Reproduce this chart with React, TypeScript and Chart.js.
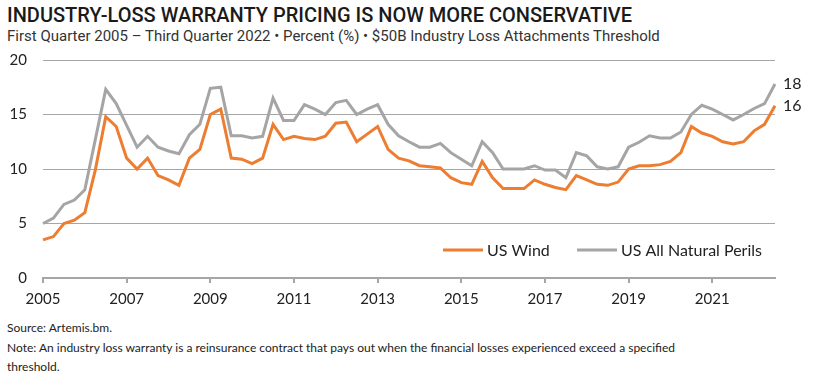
import React, { useEffect, useRef } from 'react';
import { Chart, registerables } from 'chart.js';

Chart.register(...registerables);

const years = [2005, 2006, 2007, 2008, 2009, 2010, 2011, 2012, 2013, 2014, 2015, 2016, 2017, 2018, 2019, 2020, 2021, 2022];
const quarters = ['Q1', 'Q2', 'Q3', 'Q4'];
const lastQuarter = '2022 Q3';

const categories: string[] = [];
for (const y of years) {
  for (const q of quarters) {
    const c = `${y} ${q}`;
    if (categories.length && categories[categories.length - 1] === lastQuarter) break;
    categories.push(c);
  }
}

const usWind = [
  3.5, 3.8, 5.0, 5.3, 6.0, 9.9, 14.8, 13.9, 11.0, 10.0, 11.0, 9.4,
  9.0, 8.5, 11.0, 11.8, 15.0, 15.5, 11.0, 10.9, 10.5, 11.0, 14.1, 12.7,
  13.0, 12.8, 12.7, 13.0, 14.2, 14.3, 12.5, 13.2, 13.9, 11.8, 11.0, 10.75,
  10.3, 10.2, 10.1, 9.2, 8.75, 8.6, 10.7, 9.2, 8.2, 8.2, 8.2, 9.0,
  8.6, 8.3, 8.1, 9.4, 9.0, 8.6, 8.5, 8.8, 10.0, 10.3, 10.3, 10.4,
  10.7, 11.5, 13.9, 13.3, 13.0, 12.5, 12.3, 12.5, 13.5, 14.1, 15.8,
];

const usAllPerils = [
  5.0, 5.5, 6.75, 7.15, 8.1, 12.7, 17.3, 16.0, 14.0, 12.0, 13.0, 12.0,
  11.65, 11.4, 13.15, 14.1, 17.4, 17.5, 13.05, 13.05, 12.85, 13.0, 16.5, 14.45,
  14.45, 15.9, 15.5, 15.0, 16.1, 16.3, 15.0, 15.5, 15.9, 14.1, 13.05, 12.5,
  12.0, 12.0, 12.35, 11.5, 10.9, 10.3, 12.5, 11.5, 10.0, 10.0, 10.0, 10.3,
  9.9, 9.9, 9.2, 11.5, 11.2, 10.2, 10.0, 10.2, 12.0, 12.45, 13.05, 12.85,
  12.85, 13.4, 15.0, 15.85, 15.5, 15.0, 14.5, 15.0, 15.55, 16.0, 17.8,
];

const seriesNames = ['US Wind', 'US All Natural Perils'];
const seriesColors = ['#ED7D31', '#A5A5A5'];
const yMin = 0;
const yMax = 20;
const yStep = 5;
const xTickYears = [2005, 2007, 2009, 2011, 2013, 2015, 2017, 2019, 2021];

const FONT = 'Lato, "Open Sans", sans-serif';
const TEXT = '#222222';
const GRID = '#a6a6a6';

const insideLegend = {
  id: 'insideLegend',
  afterDatasetsDraw(chart: any) {
    const { ctx, chartArea } = chart;
    ctx.save();
    ctx.font = `16px ${FONT}`;
    ctx.textBaseline = 'middle';
    ctx.textAlign = 'left';
    const y = chartArea.bottom - 28;
    const starts = [chartArea.left + 400, chartArea.left + 534];
    chart.data.datasets.forEach((ds: any, i: number) => {
      const x = starts[i];
      ctx.strokeStyle = ds.borderColor;
      ctx.lineWidth = 3;
      ctx.beginPath();
      ctx.moveTo(x, y);
      ctx.lineTo(x + 40, y);
      ctx.stroke();
      ctx.fillStyle = TEXT;
      ctx.fillText(ds.label, x + 44, y + 1);
    });
    ctx.restore();
  },
};

const endLabels = {
  id: 'endLabels',
  afterDatasetsDraw(chart: any) {
    const { ctx } = chart;
    ctx.save();
    ctx.font = `16px ${FONT}`;
    ctx.textBaseline = 'middle';
    ctx.textAlign = 'left';
    ctx.fillStyle = TEXT;
    chart.data.datasets.forEach((ds: any, i: number) => {
      const meta = chart.getDatasetMeta(i);
      const pt = meta.data[meta.data.length - 1];
      const v = ds.data[ds.data.length - 1];
      ctx.fillText(String(Math.round(v)), pt.x + 8, pt.y);
    });
    ctx.restore();
  },
};

function xLabel(index: number): string {
  const c = categories[index];
  if (!c) return '';
  const [yr, q] = c.split(' ');
  return q === 'Q1' && xTickYears.includes(Number(yr)) ? yr : '';
}

export default function App() {
  const ref = useRef<HTMLCanvasElement | null>(null);

  useEffect(() => {
    if (!ref.current) return;
    const chart = new Chart(ref.current, {
      type: 'line',
      data: {
        labels: categories,
        datasets: [
          {
            label: seriesNames[0],
            data: usWind,
            borderColor: seriesColors[0],
            backgroundColor: seriesColors[0],
            borderWidth: 3,
            pointRadius: 0,
            tension: 0,
            fill: false,
          },
          {
            label: seriesNames[1],
            data: usAllPerils,
            borderColor: seriesColors[1],
            backgroundColor: seriesColors[1],
            borderWidth: 3,
            pointRadius: 0,
            tension: 0,
            fill: false,
          },
        ],
      },
      options: {
        responsive: false,
        animation: false,
        layout: { padding: { left: 0, right: 41, top: 0, bottom: 0 } },
        plugins: {
          legend: { display: false },
          title: { display: false },
          tooltip: { enabled: false },
        },
        scales: {
          x: {
            type: 'category',
            offset: false,
            afterFit: (s: any) => { s.height = 32; },
            grid: {
              display: true,
              drawOnChartArea: false,
              drawTicks: true,
              tickLength: 5,
              lineWidth: 2,
              color: (ctx: any) => (xLabel(ctx.index) ? GRID : 'rgba(0,0,0,0)'),
            },
            border: { display: true, color: GRID, width: 2 },
            ticks: {
              autoSkip: false,
              maxRotation: 0,
              minRotation: 0,
              padding: 7,
              color: TEXT,
              font: { family: FONT, size: 15 },
              callback: (_v: any, index: number) => xLabel(index),
            },
          },
          y: {
            min: yMin,
            max: yMax,
            afterFit: (s: any) => { s.width = 43; },
            grid: { color: GRID, lineWidth: 1, drawTicks: false },
            border: { display: false },
            ticks: {
              stepSize: yStep,
              padding: 16,
              color: TEXT,
              font: { family: FONT, size: 15 },
            },
          },
        },
      },
      plugins: [insideLegend, endLabels],
    });
    return () => chart.destroy();
  }, []);

  return (
    <div style={{ position: 'absolute', left: 0, top: 0, width: 816, height: 385, background: '#fff', overflow: 'hidden' }}>
      <div style={{ position: 'absolute', left: 7, top: 3, fontFamily: 'Roboto, sans-serif', fontWeight: 500, fontSize: 20, color: '#1a1a1a', whiteSpace: 'nowrap', lineHeight: '24px' }}>
        INDUSTRY-LOSS WARRANTY PRICING IS NOW MORE CONSERVATIVE
      </div>
      <div style={{ position: 'absolute', left: 7, top: 27, fontFamily: 'Roboto, sans-serif', fontSize: 15, color: '#333', whiteSpace: 'nowrap', lineHeight: '18px' }}>
        First Quarter 2005 – Third Quarter 2022 • Percent (%) • $50B Industry Loss Attachments Threshold
      </div>
      <div style={{ position: 'absolute', left: 0, top: 35, width: 816, height: 275 }}>
        <canvas ref={ref} width={816} height={275} style={{ display: 'block' }} />
      </div>
      <div style={{ position: 'absolute', left: 7, top: 318, fontFamily: FONT, fontSize: 12, color: '#222', lineHeight: '19.5px', whiteSpace: 'nowrap' }}>
        <div>Source: Artemis.bm.</div>
        <div>Note: An industry loss warranty is a reinsurance contract that pays out when the financial losses experienced exceed a specified</div>
        <div>threshold.</div>
      </div>
    </div>
  );
}
